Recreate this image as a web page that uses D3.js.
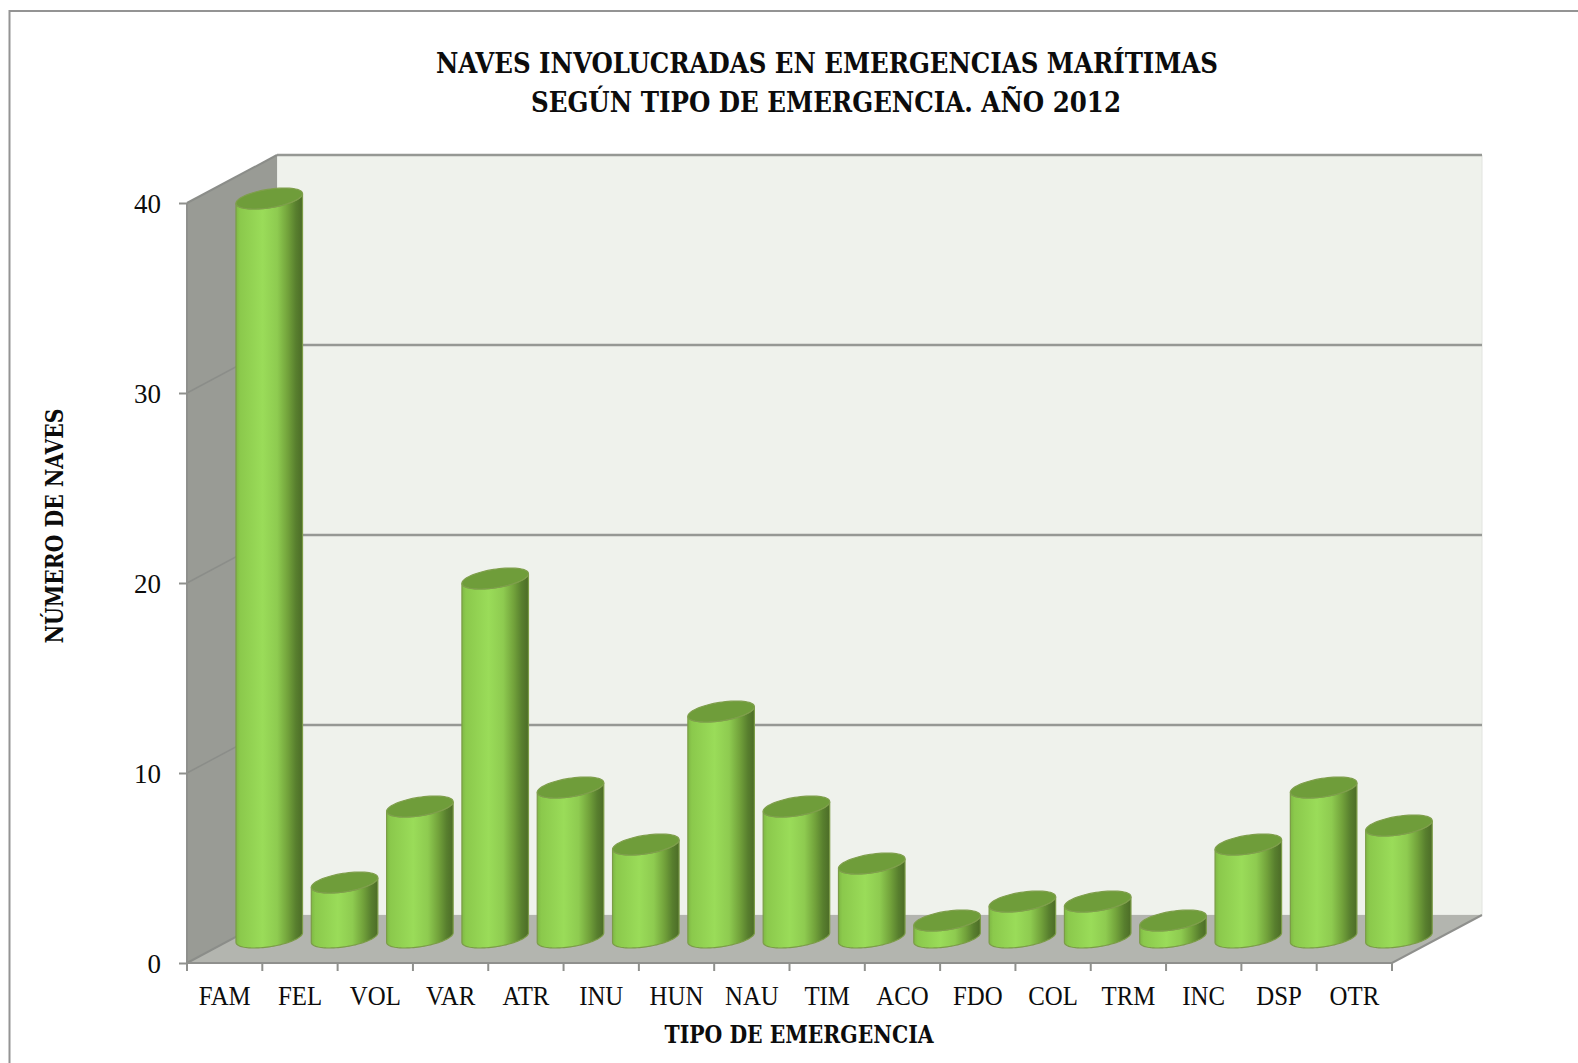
<!DOCTYPE html>
<html lang="es">
<head>
<meta charset="utf-8">
<title>Naves involucradas en emergencias marítimas</title>
<script src="https://cdn.jsdelivr.net/npm/d3@7"></script>
<style>
    html, body { margin: 0; padding: 0; background: #fff; overflow: hidden; }
    svg { display: block; }
    text { font-family: "Liberation Serif", serif; fill: #0c0c0c; }
    text.heavy { font-family: "DejaVu Serif Condensed", "DejaVu Serif", serif; font-weight: bold; }
</style>
</head>
<body>
<div id="chart"></div>
<script>
// Data
const categories = ["FAM", "FEL", "VOL", "VAR", "ATR", "INU", "HUN", "NAU", "TIM", "ACO", "FDO", "COL", "TRM", "INC", "DSP", "OTR"];
const naves = [39, 3, 7, 19, 8, 5, 12, 7, 4, 1, 2, 2, 1, 5, 8, 6];
const yTicks = [0, 10, 20, 30, 40];
const titleLines = ["NAVES INVOLUCRADAS EN EMERGENCIAS MARÍTIMAS", "SEGÚN TIPO DE EMERGENCIA. AÑO 2012"];
const xTitle = "TIPO DE EMERGENCIA";
const yTitle = "NÚMERO DE NAVES";

const width = 1578, height = 1063;
const plot = { left: 187, right: 1392, top: 203, bottom: 963 };
const depth = { x: 90, y: -48 };      // offset of the back wall
const barOffset = { x: 44.6, y: -25.5, top: -23.5 }; // bars stand in the middle of the floor
const ellipse = { a: 29.6, bx: 15.2, c: 10.5 };

const svg = d3.select("#chart").append("svg")
    .attr("width", width)
    .attr("height", height);

const defs = svg.append("defs");
const barGradient = defs.append("linearGradient").attr("id", "barBody");
[["0%", "#7fb845"], ["6%", "#8bc94c"], ["40%", "#9adc59"], ["62%", "#8ecb50"], ["78%", "#72a23b"], ["90%", "#587f2e"], ["100%", "#4c6c27"]]
    .forEach(([offset, color]) => {
        barGradient.append("stop").attr("offset", offset).attr("stop-color", color);
    });

const x = d3.scaleBand().domain(categories).range([plot.left, plot.right]);
const y = d3.scaleLinear().domain([0, 40]).range([plot.bottom, plot.top]);

// Frame (only left and top are inside the picture)
svg.append("path")
    .attr("d", `M9.5,${height}V11H${width}`)
    .attr("fill", "none")
    .attr("stroke", "#949494")
    .attr("stroke-width", 2);

const polygon = pts => "M" + pts.map(p => p.join(",")).join("L") + "Z";
const yTop = y(40), yBase = y(0);

// Back wall
svg.append("path")
    .attr("d", polygon([
        [plot.left + depth.x, yTop + depth.y], [plot.right + depth.x, yTop + depth.y],
        [plot.right + depth.x, yBase + depth.y], [plot.left + depth.x, yBase + depth.y]
    ]))
    .attr("fill", "#eff2ec")
    .attr("stroke", "#e2e4e0")
    .attr("stroke-width", 1);

// Side wall
svg.append("path")
    .attr("d", polygon([
        [plot.left, yTop], [plot.left + depth.x, yTop + depth.y],
        [plot.left + depth.x, yBase + depth.y], [plot.left, yBase]
    ]))
    .attr("fill", "#999b95");

// Floor
svg.append("path")
    .attr("d", polygon([
        [plot.left, yBase], [plot.right, yBase],
        [plot.right + depth.x, yBase + depth.y], [plot.left + depth.x, yBase + depth.y]
    ]))
    .attr("fill", "#b3b5af");

// Gridlines, back wall and side wall
svg.append("g").selectAll("line.back")
    .data(yTicks.filter(d => d > 0))
    .enter()
    .append("line")
    .attr("class", "back")
    .attr("x1", plot.left + depth.x)
    .attr("x2", plot.right + depth.x)
    .attr("y1", d => y(d) + depth.y)
    .attr("y2", d => y(d) + depth.y)
    .attr("stroke", "#969894")
    .attr("stroke-width", 2.5);

svg.append("g").selectAll("line.side")
    .data(yTicks)
    .enter()
    .append("line")
    .attr("class", "side")
    .attr("x1", plot.left)
    .attr("x2", plot.left + depth.x)
    .attr("y1", d => y(d))
    .attr("y2", d => y(d) + depth.y)
    .attr("stroke", "#8b8d89")
    .attr("stroke-width", d => (d === 0 || d === 40) ? 2 : 1.5);

// Front floor edge, right floor edge
svg.append("path")
    .attr("d", `M${plot.left},${yTop}V${yBase}H${plot.right}L${plot.right + depth.x},${yBase + depth.y}`)
    .attr("fill", "none")
    .attr("stroke", "#8f908d")
    .attr("stroke-width", 2);

// Points of the tilted base circle, t in radians
function ellipsePoint(cx, cy, t) {
    return [
        cx + ellipse.a * Math.cos(t) + ellipse.bx * Math.sin(t),
        cy - ellipse.c * Math.sin(t)
    ];
}

const line = d3.line();
const tRight = Math.atan2(ellipse.bx, ellipse.a);
const arcSteps = d3.range(0, 49).map(i => tRight - Math.PI * i / 48); // right side, under, to left side
const fullSteps = d3.range(0, 73).map(i => 2 * Math.PI * i / 72);

function bodyPath(cx, cyTop, cyBase) {
    const lower = arcSteps.map(t => ellipsePoint(cx, cyBase, t));
    const upper = arcSteps.map(t => ellipsePoint(cx, cyTop, t)).reverse();
    return line(lower.concat(upper)) + "Z";
}

function capPath(cx, cy) {
    return line(fullSteps.map(t => ellipsePoint(cx, cy, t))) + "Z";
}

// Cylinders
const bars = svg.append("g").selectAll("g.bar")
    .data(categories.map((key, i) => ({ key, value: naves[i] })))
    .enter()
    .append("g")
    .attr("class", "bar");

bars.append("path")
    .attr("d", d => {
        const cx = x(d.key) + x.bandwidth() / 2 + barOffset.x;
        return bodyPath(cx, y(d.value) + barOffset.top, y(0) + barOffset.y);
    })
    .attr("fill", "url(#barBody)")
    .attr("stroke", "#7b9c47")
    .attr("stroke-width", 1.2);

bars.append("path")
    .attr("d", d => capPath(x(d.key) + x.bandwidth() / 2 + barOffset.x, y(d.value) + barOffset.top))
    .attr("fill", "#6f9d3a")
    .attr("stroke", "#7f9f4c")
    .attr("stroke-width", 1.2);

// Y axis
const yAxis = svg.append("g")
    .attr("transform", `translate(${plot.left},0)`)
    .call(d3.axisLeft(y).tickValues(yTicks).tickSize(8).tickPadding(18));
yAxis.select(".domain").remove();
yAxis.selectAll("line").attr("stroke", "#8f908d").attr("stroke-width", 2);
yAxis.selectAll("text").attr("font-size", 27).attr("font-family", null).attr("dy", "0.35em");

// X axis: labels from the band scale, ticks on the band edges
const xAxis = svg.append("g")
    .attr("transform", `translate(0,${plot.bottom})`)
    .call(d3.axisBottom(x).tickSize(0).tickPadding(24));
xAxis.select(".domain").remove();
xAxis.selectAll("text")
    .attr("font-size", 27)
    .attr("font-family", null)
    .attr("dy", "0.68em")
    .attr("lengthAdjust", "spacingAndGlyphs")
    .each(function () {
        // the original face is narrower than Liberation Serif
        d3.select(this).attr("textLength", this.getComputedTextLength() * 0.92);
    });

svg.append("g").selectAll("line")
    .data(categories.concat("end"))
    .enter()
    .append("line")
    .attr("x1", d => d === "end" ? plot.right : x(d))
    .attr("x2", d => d === "end" ? plot.right : x(d))
    .attr("y1", plot.bottom)
    .attr("y2", plot.bottom + 8)
    .attr("stroke", "#8f908d")
    .attr("stroke-width", 2);

// Title and axis titles
const titleSpec = [
    { text: titleLines[0], x: 827, y: 73, len: 782 },
    { text: titleLines[1], x: 826, y: 112, len: 590 }
];
svg.append("g").selectAll("text")
    .data(titleSpec)
    .enter()
    .append("text")
    .attr("class", "heavy")
    .attr("x", d => d.x)
    .attr("y", d => d.y)
    .attr("text-anchor", "middle")
    .attr("font-size", 27)
    .attr("textLength", d => d.len)
    .attr("lengthAdjust", "spacingAndGlyphs")
    .text(d => d.text);

svg.append("text")
    .attr("class", "heavy")
    .attr("x", 799)
    .attr("y", 1043)
    .attr("text-anchor", "middle")
    .attr("font-size", 24)
    .attr("textLength", 269)
    .attr("lengthAdjust", "spacingAndGlyphs")
    .text(xTitle);

svg.append("text")
    .attr("class", "heavy")
    .attr("transform", "translate(63,526) rotate(-90)")
    .attr("text-anchor", "middle")
    .attr("font-size", 24)
    .attr("textLength", 235)
    .attr("lengthAdjust", "spacingAndGlyphs")
    .text(yTitle);
</script>
</body>
</html>
